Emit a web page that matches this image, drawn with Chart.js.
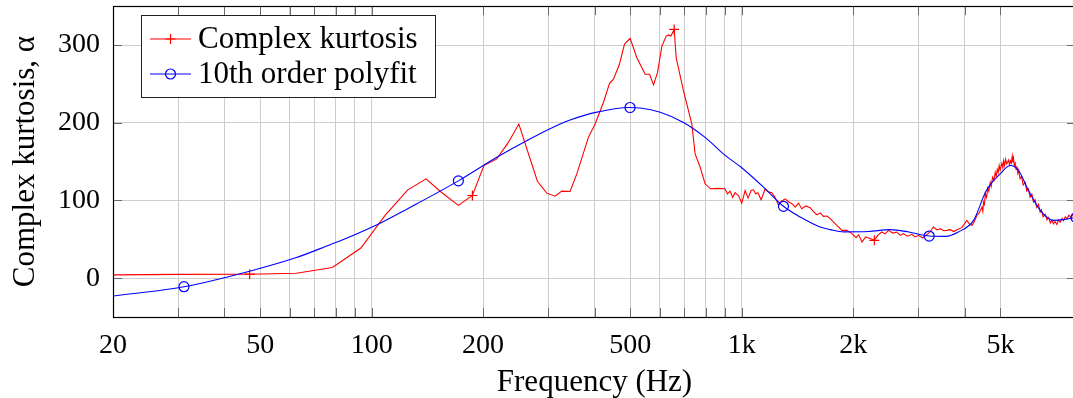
<!DOCTYPE html>
<html>
<head>
<meta charset="utf-8">
<script src="https://cdn.jsdelivr.net/npm/chart.js@4.4.1/dist/chart.umd.min.js"></script>
<style>
html,body{margin:0;padding:0;background:#fff;overflow:hidden;width:1073px;height:398px;}
canvas{display:block;}
</style>
</head>
<body>
<canvas id="c" width="1086" height="398"></canvas>
<script>
// ---- data ----
const redFreq = [20,30,46.8,62.6,78.3,93.5,108.7,125.2,140.3,153,171.5,187.1,201,217.8,234.1,249.8,280.4,297.2,313.1,326.3,343.6,358.3,385.1,401.5,422.8,439,450,467.1,481.9,499.3,520.6,548.3,563.3,577.5,591.9,608.3,624.8,634,643.4,656.7,664.9,695.8,733,748,772,796,823,860,900,915,930,945,959,980,1000,1021,1040,1060,1075,1090,1105,1128,1157,1180,1206,1230,1257,1280,1310,1340,1366,1395,1423,1453,1490,1530,1560,1597,1630,1662,1700,1733,1770,1807,1865,1924,1984,2037,2070,2113,2160,2222,2281,2330,2390,2440,2491,2560,2625,2680,2735,2800,2881,2940,3002,3080,3165,3230,3296,3370,3437,3510,3583,3659,3740,3814,3930,4058,4120,4187,4250,4319,4380,4455,4480,4500,4525,4550,4585,4620,4650,4692,4720,4760,4800,4840,4870,4900,4930,4960,4990,5045,5075,5100,5130,5160,5200,5257,5290,5320,5350,5380,5400,5424,5450,5480,5510,5540,5570,5596,5650,5700,5760,5832,5890,5950,6010,6080,6140,6200,6270,6337,6400,6450,6520,6606,6680,6750,6820,6889,6950,7020,7100,7178,7250,7330,7400,7483,7560,7650,7750,7864,8000];
const redVal  = [4.2,4.8,5.1,6.4,13.7,38.8,80.8,113.7,127.8,111.9,93.6,106.4,144.9,153.5,174.7,198.3,124.7,109.4,105.5,112,111.5,134.2,181.2,198.3,226,250.4,256,275.2,300.9,308.6,283.7,262.4,262.4,248.7,264.5,298.7,311.5,313,311.5,320.1,283.7,241,198.3,160,142.7,121.4,115,115.5,115,108.6,112,104,110,106,96.6,112.8,103,112.8,113.7,108.6,110,100.9,115,111,109.9,104,93.6,99,102,98,95.8,91.4,96.6,89.4,93,90.6,86,81.5,84,79.5,80,76.5,72,67.9,61.5,61.5,57.3,52.2,56,46.5,53,50.9,48.7,55,59.4,57,61.5,58,59.4,55,57.3,54,56.4,53,55.1,52,56,60,65.8,62,63.7,61,61.5,62.4,60,62.4,65,74.4,70,67.9,73,80.8,84,91.4,86,98,95,108.6,104,116,112,123,118,130,126,136,131,140,136,145,139,148,142,151,145,153,147,152,146,151,148,157,149,154,145,148,140,144,135,139,128,131,120,123,112,115,104,108,98,101,91,95,85,88,79,82,75,78,71,75,70,73,69,75,72,77,74,79,76,81,78,82,80];
const redMarks = [46.8,187.1,656.7,2281];

const blueFreq = [20,31.1,46.8,62.6,77.2,84.2,104.7,125.1,171.5,217.8,270,323,343.6,400,499,531.5,602,695.8,796,902,996,1157,1296,1439,1628,1733,1885,2200,2518,2826,3209,3555,3846,4229,4580,4992,5314,5596,5955,6404,6955,7400,8000];
const blueVal  = [-23,-11,9,26.5,43,50,70,89.4,125.2,155.5,180,198.3,203.5,213,219.6,219,213.5,200.4,181.2,158,142.7,115,92.5,78.6,65.8,62.5,59.5,60,62.4,59.4,54.2,53.8,59.4,74.4,112.8,134.2,144.9,138.5,112.8,87.2,74.4,75.3,78];
const blueMarks = [31.1,171.5,499,1296,3209,8000];

const xGrid = [20,30,40,50,60,70,80,90,100,200,300,400,500,600,700,800,900,1000,2000,3000,4000,5000];
const xTickValues = [20,50,100,200,500,1000,2000,5000];
const xTickLabels = ['20','50','100','200','500','1k','2k','5k'];
const yTickValues = [0,100,200,300];
const yTickLabels = ['0','100','200','300'];

const seriesNames = ['Complex kurtosis','10th order polyfit'];

// ---- chart ----
const FONT = 'Liberation Serif';
const FS = 28;   // tick labels
const FT = 31;   // titles and legend

const framePlugin = {
  id:'frame',
  afterDatasetsDraw(chart){
    const {ctx, chartArea:a, scales:{x,y}} = chart;
    ctx.save();
    ctx.strokeStyle = '#6a6a6a';
    ctx.lineWidth = 1;
    ctx.beginPath();
    xGrid.forEach(v=>{
      const px = Math.round(x.getPixelForValue(v))+0.5;
      ctx.moveTo(px,a.top); ctx.lineTo(px,a.top+9);
      ctx.moveTo(px,a.bottom); ctx.lineTo(px,a.bottom-9);
    });
    yTickValues.forEach(v=>{
      const py = Math.round(y.getPixelForValue(v))+0.5;
      ctx.moveTo(a.left,py); ctx.lineTo(a.left+9,py);
      ctx.moveTo(a.right,py); ctx.lineTo(a.right-9,py);
    });
    ctx.stroke();
    ctx.strokeStyle = '#000';
    ctx.lineWidth = 1.2;
    ctx.strokeRect(Math.round(a.left)+0.5, Math.round(a.top)+0.5, Math.round(a.right-a.left), Math.round(a.bottom-a.top));
    ctx.restore();
  }
};

const legendPlugin = {
  id:'boxLegend',
  afterDraw(chart){
    const ctx = chart.ctx;
    const bx=141, by=15, bw=294, bh=82;
    ctx.save();
    ctx.fillStyle='#fff';
    ctx.fillRect(bx,by,bw,bh);
    ctx.strokeStyle='#222';
    ctx.lineWidth=1;
    ctx.strokeRect(bx+0.5,by+0.5,bw,bh);
    const rows=[{y:39,color:'#ff0000',mark:'cross'},{y:74,color:'#0000ff',mark:'circle'}];
    rows.forEach((r,i)=>{
      ctx.strokeStyle=r.color; ctx.lineWidth=1.2;
      ctx.beginPath(); ctx.moveTo(150,r.y); ctx.lineTo(191,r.y); ctx.stroke();
      ctx.beginPath();
      if(r.mark==='cross'){ctx.moveTo(170.5,r.y-5);ctx.lineTo(170.5,r.y+5);ctx.moveTo(165.5,r.y);ctx.lineTo(175.5,r.y);}
      else {ctx.arc(170.5,r.y,5,0,Math.PI*2);}
      ctx.stroke();
      ctx.fillStyle='#000';
      ctx.font = FT+'px "'+FONT+'"';
      ctx.textBaseline='middle';
      ctx.textAlign='left';
      ctx.fillText(seriesNames[i],198,r.y+1);
    });
    ctx.restore();
  }
};

const toPts = (fs,vs)=>fs.map((f,i)=>({x:f,y:vs[i]}));
const noPad = s=>{s.paddingTop=0;s.paddingBottom=0;s.paddingLeft=0;s.paddingRight=0;};

new Chart(document.getElementById('c'),{
  type:'line',
  data:{datasets:[
    {label:seriesNames[0], data:toPts(redFreq,redVal), borderColor:'#ff0000', borderWidth:1.1, tension:0,
     pointStyle:'cross', pointRadius:c=>redMarks.includes(c.raw&&c.raw.x)?5:0, pointBorderColor:'#ff0000', pointBorderWidth:1.2, pointBackgroundColor:'rgba(0,0,0,0)', order:2},
    {label:seriesNames[1], data:toPts(blueFreq,blueVal), borderColor:'#0000ff', borderWidth:1.1, cubicInterpolationMode:'monotone',
     pointStyle:'circle', pointRadius:c=>blueMarks.includes(c.raw&&c.raw.x)?5:0, pointBorderColor:'#0000ff', pointBorderWidth:1.2, pointBackgroundColor:'rgba(0,0,0,0)', order:1}
  ]},
  options:{
    responsive:false, animation:false, devicePixelRatio:1,
    layout:{padding:{top:5,right:10,left:0,bottom:0}},
    plugins:{legend:{display:false}, tooltip:{enabled:false}},
    elements:{line:{fill:false}},
    scales:{
      x:{type:'logarithmic', min:20, max:8000,
        afterFit(s){s.height=81; noPad(s);},
        afterBuildTicks(s){s.ticks=xGrid.map(v=>({value:v}));},
        ticks:{autoSkip:false, maxRotation:0, minRotation:0, padding:12, color:'#000', font:{family:FONT,size:FS},
          callback(v){const i=xTickValues.indexOf(v); return i>=0?xTickLabels[i]:'';}},
        grid:{color:'#cdcdcd', lineWidth:1, drawTicks:false},
        border:{display:false},
        title:{display:true, text:'Frequency (Hz)', color:'#000', font:{family:FONT,size:FT,lineHeight:1.0}, padding:{top:0,bottom:0}}
      },
      y:{min:-50, max:350,
        afterFit(s){s.width=113; noPad(s);},
        afterBuildTicks(s){s.ticks=yTickValues.map(v=>({value:v}));},
        ticks:{padding:13, color:'#000', font:{family:FONT,size:FS},
          callback(v){const i=yTickValues.indexOf(v); return i>=0?yTickLabels[i]:'';}},
        grid:{color:'#cdcdcd', lineWidth:1, drawTicks:false},
        border:{display:false},
        title:{display:true, text:'Complex kurtosis, α', color:'#000', font:{family:FONT,size:FT}, padding:{top:7,bottom:0}}
      }
    }
  },
  plugins:[framePlugin, legendPlugin]
});
</script>
</body>
</html>
